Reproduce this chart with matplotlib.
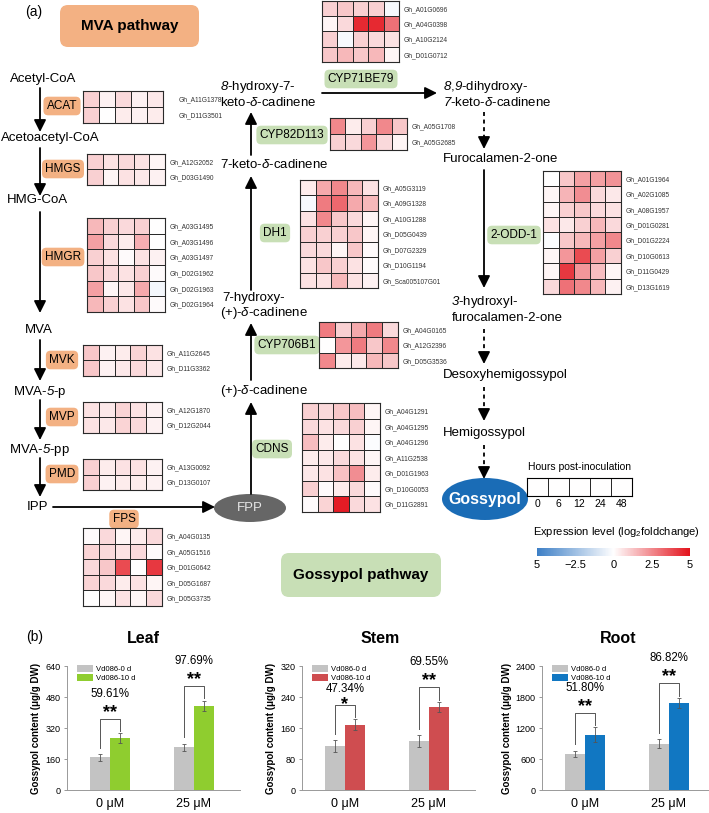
import numpy as np
import matplotlib as mpl
import matplotlib.pyplot as plt
from matplotlib.colors import LinearSegmentedColormap, Normalize
from matplotlib.patches import Ellipse, FancyBboxPatch

plt.rcParams['font.family'] = ['Liberation Sans', 'DejaVu Sans']
plt.rcParams['mathtext.fontset'] = 'custom'
plt.rcParams['mathtext.rm'] = 'Liberation Sans'
plt.rcParams['mathtext.it'] = 'Liberation Sans:italic'
plt.rcParams['mathtext.sf'] = 'Liberation Sans:italic'
plt.rcParams['mathtext.bf'] = 'Liberation Sans:bold'

W, H = 709, 813

# ---- heatmap data: log2 fold change at 0, 6, 12, 24, 48 hpi ----
hours = ['0', '6', '12', '24', '48']

acat_genes = ['A11G1378', 'D11G3501']
acat_vals = [[1.0, 0.3, 0.8, 0.3, 0.5],
             [1.0, 0.0, 0.4, 0.3, 0.4]]
hmgs_genes = ['A12G2052', 'D03G1490']
hmgs_vals = [[1.0, 0.6, 0.8, 0.6, 0.2],
             [1.0, 0.2, 0.6, 0.5, 0.3]]
hmgr_genes = ['A03G1495', 'A03G1496', 'A03G1497', 'D02G1962', 'D02G1963', 'D02G1964']
hmgr_vals = [[1.5, 1.0, 0.8, 1.0, 0.0],
             [2.0, 0.8, 0.4, 1.7, 0.0],
             [1.0, 0.6, 0.1, 0.6, 0.3],
             [1.2, 0.8, 0.6, 1.0, 0.1],
             [2.0, 0.2, 0.5, 1.8, -0.3],
             [1.5, 1.0, 0.6, 1.2, 0.1]]
mvk_genes = ['A11G2645', 'D11G3362']
mvk_vals = [[1.2, 0.3, 0.4, 0.9, 0.6],
            [1.2, 0.3, 0.5, 0.8, 0.5]]
mvp_genes = ['A12G1870', 'D12G2044']
mvp_vals = [[0.6, 0.5, 0.9, 0.6, 0.3],
            [0.6, 0.5, 0.9, 0.8, 0.3]]
pmd_genes = ['A13G0092', 'D13G0107']
pmd_vals = [[1.0, 0.4, 0.6, 0.6, 0.3],
            [1.0, 0.3, 0.4, 0.4, 0.3]]
fps_genes = ['A04G0135', 'A05G1516', 'D01G0642', 'D05G1687', 'D05G3735']
fps_vals = [[0.1, 0.8, 0.2, 0.4, 0.8],
            [0.9, 0.8, 0.6, 0.8, 0.1],
            [0.8, 1.2, 3.8, 0.0, 4.2],
            [0.9, 0.8, 0.4, 0.6, 0.2],
            [0.0, 0.2, 0.6, 0.2, 0.8]]
cyp71_genes = ['A01G0696', 'A04G0398', 'A10G2124', 'D01G0712']
cyp71_vals = [[1.0, 1.2, 1.0, 1.0, -0.2],
              [0.2, 0.8, 4.5, 4.5, 3.0],
              [1.0, -0.2, 1.0, 0.8, 0.6],
              [1.2, 1.5, 1.2, 1.5, 0.2]]
cyp82_genes = ['A05G1708', 'A05G2685']
cyp82_vals = [[2.5, 0.4, 1.0, 2.5, 1.2],
              [1.0, 0.8, 2.2, 0.8, 0.2]]
dh1_genes = ['A05G3119', 'A09G1328', 'A10G1288', 'D05G0439', 'D07G2329', 'D10G1194', 'Sca005107G01']
dh1_vals = [[0.4, 1.8, 2.5, 1.5, 0.6],
            [-0.2, 2.8, 3.2, 1.8, 1.5],
            [0.6, 2.5, 1.2, 0.8, 0.2],
            [1.0, 1.0, 1.0, 1.2, 0.2],
            [0.8, 0.8, 0.2, 1.2, 0.1],
            [0.6, 1.2, 1.0, 0.6, 0.1],
            [0.6, 0.6, 1.5, 0.6, 0.3]]
cyp706_genes = ['A04G0165', 'A12G2396', 'D05G3536']
cyp706_vals = [[2.8, 1.0, 1.8, 2.8, 0.8],
               [0.0, 2.2, 2.8, 1.2, 2.5],
               [2.5, 0.4, 0.5, 1.5, 1.2]]
cdns_genes = ['A04G1291', 'A04G1295', 'A04G1296', 'A11G2538', 'D01G1963', 'D10G0053', 'D11G2891']
cdns_vals = [[1.0, 0.8, 1.2, 1.4, 0.2],
             [0.8, 0.6, 0.8, 1.0, 0.2],
             [1.4, 0.4, 0.0, 0.6, -0.1],
             [0.4, 0.5, 0.8, 0.6, 0.2],
             [0.5, 0.6, 1.3, 2.4, 0.4],
             [1.0, 0.1, 0.4, 0.8, 0.1],
             [0.1, 0.9, 4.8, 0.8, 0.6]]
odd_genes = ['A01G1964', 'A02G1085', 'A08G1957', 'D01G0281', 'D01G2224', 'D10G0613', 'D11G0429', 'D13G1619']
odd_vals = [[0.0, 1.2, 2.0, 2.0, 2.3],
            [0.2, 1.6, 2.4, 0.8, 0.5],
            [0.2, 1.0, 1.2, 0.8, 0.6],
            [0.6, 0.5, 1.0, 1.5, 0.8],
            [-0.1, 1.2, 1.5, 2.0, 2.5],
            [0.2, 2.2, 3.8, 2.0, 1.0],
            [0.2, 4.2, 2.2, 1.4, 0.2],
            [0.8, 3.0, 2.5, 1.5, 0.3]]

cbar_ticks = [-5, -2.5, 0, 2.5, 5]
cbar_labels = ['5', '\u22122.5', '0', '2.5', '5']

# ---- gossypol content (ug/g DW) ----
treatments = ['0 \u03bcM', '25 \u03bcM']
leaf_0d, leaf_0d_err = [168, 220], [18, 20]
leaf_10d, leaf_10d_err = [267, 435], [25, 25]
leaf_pct, leaf_sig = ['59.61%', '97.69%'], ['**', '**']
stem_0d, stem_0d_err = [114, 126], [15, 15]
stem_10d, stem_10d_err = [168, 214], [14, 13]
stem_pct, stem_sig = ['47.34%', '69.55%'], ['*', '**']
root_0d, root_0d_err = [703, 897], [60, 90]
root_10d, root_10d_err = [1071, 1678], [140, 100]
root_pct, root_sig = ['51.80%', '86.82%'], ['**', '**']

cmap = LinearSegmentedColormap.from_list('expr', ['#3d7fc6', '#ffffff', '#e3131c'])
ORANGE = '#f3b183'
GREEN = '#c8dfb6'

fig = plt.figure(figsize=(W / 100, H / 100), dpi=100)


def px(x0, y0, x1, y1):
    return [x0 / W, 1 - y1 / H, (x1 - x0) / W, (y1 - y0) / H]


ax = fig.add_axes([0, 0, 1, 1])
ax.set_xlim(0, W)
ax.set_ylim(H, 0)
ax.axis('off')


def arrow(x0, y0, x1, y1):
    ax.annotate('', xy=(x1, y1), xytext=(x0, y0),
                arrowprops=dict(arrowstyle='-|>,head_length=0.6,head_width=0.3', color='k',
                                lw=1.3, mutation_scale=12, shrinkA=0, shrinkB=0))


def dashed(x, y0, y1):
    ax.plot([x, x], [y0, y1 - 8], color='k', lw=1.3, ls=(0, (2.2, 2.0)))
    arrow(x, y1 - 9, x, y1)


def tag(x, y, s, fc):
    ax.text(x, y, s, ha='center', va='center', fontsize=8.5,
            bbox=dict(boxstyle='round,pad=0.28,rounding_size=0.4', fc=fc, ec='none'))


def heatmap(rect, genes, vals, pad=3):
    hx = fig.add_axes(px(*rect))
    hx.pcolormesh(np.array(vals), cmap=cmap, vmin=-5, vmax=5, edgecolors='#2a2a2a', linewidth=0.7)
    hx.set_xlim(0, 5)
    hx.set_ylim(len(genes), 0)
    hx.set_xticks([])
    hx.yaxis.tick_right()
    hx.set_yticks(np.arange(len(genes)) + 0.5, ['Gh_' + g for g in genes], fontsize=4.8, color='#333333')
    hx.tick_params(axis='y', length=0, pad=pad)
    for s in hx.spines.values():
        s.set_linewidth(0.8)
        s.set_color('#2a2a2a')


# panel labels and pathway boxes
ax.text(34, 12, '(a)', ha='center', va='center', fontsize=10)
ax.text(35, 637, '(b)', ha='center', va='center', fontsize=10)
ax.add_patch(FancyBboxPatch((60, 5), 139, 42, boxstyle='round,pad=0,rounding_size=8', fc=ORANGE, ec='none'))
ax.text(129.5, 26, 'MVA pathway', ha='center', va='center', fontsize=11, fontweight='bold')
ax.add_patch(FancyBboxPatch((281, 553), 160, 44, boxstyle='round,pad=0,rounding_size=8', fc=GREEN, ec='none'))
ax.text(361, 575, 'Gossypol pathway', ha='center', va='center', fontsize=11, fontweight='bold')

# MVA branch
fs = 9.5
ax.text(43, 79, 'Acetyl-CoA', ha='center', va='center', fontsize=fs)
arrow(40, 88, 40, 132)
tag(62, 106, 'ACAT', ORANGE)
ax.text(50, 138, 'Acetoacetyl-CoA', ha='center', va='center', fontsize=fs)
arrow(40, 148, 40, 196)
tag(63, 169, 'HMGS', ORANGE)
ax.text(37, 200, 'HMG-CoA', ha='center', va='center', fontsize=fs)
arrow(40, 212, 40, 313)
tag(63, 257, 'HMGR', ORANGE)
ax.text(39, 330, 'MVA', ha='center', va='center', fontsize=fs)
arrow(40, 340, 40, 381)
tag(62, 360, 'MVK', ORANGE)
ax.text(40, 392, 'MVA-$\\mathsf{5}$-p', ha='center', va='center', fontsize=fs)
arrow(40, 400, 40, 440)
tag(62, 417, 'MVP', ORANGE)
ax.text(40, 450, 'MVA-$\\mathsf{5}$-pp', ha='center', va='center', fontsize=fs)
arrow(40, 458, 40, 497)
tag(62, 474, 'PMD', ORANGE)
ax.text(38, 507, 'IPP', ha='center', va='center', fontsize=fs)
arrow(53, 507, 215, 507)
tag(124, 519, 'FPS', ORANGE)
ax.add_patch(Ellipse((250, 508), 72, 28, fc='#666666', ec='none'))
ax.text(250, 508, 'FPP', ha='center', va='center', fontsize=9.5, color='#e6e6e6')

# sesquiterpene branch
arrow(251, 494, 251, 402)
ax.text(220, 391, '(+)-$\\delta$-cadinene', ha='left', va='center', fontsize=fs)
tag(272, 449, 'CDNS', GREEN)
arrow(251, 380, 251, 323)
ax.text(222, 298, '7-hydroxy-', ha='left', va='center', fontsize=fs)
ax.text(220, 313, '(+)-$\\delta$-cadinene', ha='left', va='center', fontsize=fs)
tag(287, 345, 'CYP706B1', GREEN)
arrow(251, 290, 251, 176)
ax.text(220, 165, '7-keto-$\\delta$-cadinene', ha='left', va='center', fontsize=fs)
tag(275, 233, 'DH1', GREEN)
arrow(251, 155, 251, 112)
ax.text(220, 87, '$\\mathsf{8}$-hydroxy-7-', ha='left', va='center', fontsize=fs)
ax.text(220, 103, 'keto-$\\delta$-cadinene', ha='left', va='center', fontsize=fs)
tag(292, 135, 'CYP82D113', GREEN)
tag(361, 79, 'CYP71BE79', GREEN)
arrow(322, 93, 437, 93)
ax.text(443, 87, '$\\mathsf{8}$,$\\mathsf{9}$-dihydroxy-', ha='left', va='center', fontsize=fs)
ax.text(443, 103, '$\\mathsf{7}$-keto-$\\delta$-cadinene', ha='left', va='center', fontsize=fs)
dashed(484, 112, 149)
ax.text(443, 159, 'Furocalamen-2-one', ha='left', va='center', fontsize=fs)
arrow(484, 170, 484, 288)
tag(514, 235, '2-ODD-1', GREEN)
ax.text(451, 302, '$\\mathsf{3}$-hydroxyl-', ha='left', va='center', fontsize=fs)
ax.text(452, 318, 'furocalamen-2-one', ha='left', va='center', fontsize=fs)
dashed(484, 329, 364)
ax.text(443, 375, 'Desoxyhemigossypol', ha='left', va='center', fontsize=fs)
dashed(484, 387, 421)
ax.text(443, 433, 'Hemigossypol', ha='left', va='center', fontsize=fs)
dashed(484, 445, 479)
ax.add_patch(Ellipse((485, 499), 86, 42, fc='#1a6cb6', ec='none'))
ax.text(485, 499, 'Gossypol', ha='center', va='center', fontsize=11.5, fontweight='bold', color='white')

# heatmaps
heatmap((83, 91, 163, 123), acat_genes, acat_vals, pad=11)
heatmap((87, 154, 165, 185), hmgs_genes, hmgs_vals)
heatmap((87, 218, 165, 312), hmgr_genes, hmgr_vals)
heatmap((83, 345, 162, 376), mvk_genes, mvk_vals)
heatmap((83, 402, 162, 433), mvp_genes, mvp_vals)
heatmap((83, 459, 162, 490), pmd_genes, pmd_vals)
heatmap((83, 528, 162, 606), fps_genes, fps_vals)
heatmap((322, 1, 399, 62), cyp71_genes, cyp71_vals)
heatmap((330, 118, 407, 150), cyp82_genes, cyp82_vals)
heatmap((300, 180, 378, 288), dh1_genes, dh1_vals)
heatmap((319, 322, 398, 368), cyp706_genes, cyp706_vals)
heatmap((302, 403, 380, 512), cdns_genes, cdns_vals)
heatmap((543, 171, 621, 294), odd_genes, odd_vals)

# hours key
ax.text(580, 467, 'Hours post-inoculation', ha='center', va='center', fontsize=7.5)
kx = fig.add_axes(px(527, 478, 632, 496))
kx.pcolormesh(np.zeros((1, len(hours))), cmap=cmap, vmin=-5, vmax=5, edgecolors='#2a2a2a', linewidth=0.7)
kx.set_xlim(0, len(hours))
kx.set_xticks(np.arange(len(hours)) + 0.5, hours, fontsize=7.5)
kx.set_yticks([])
kx.tick_params(axis='x', length=0, pad=2)

# colour scale
ax.text(616, 532, 'Expression level (log$_2$foldchange)', ha='center', va='center', fontsize=8)
cax = fig.add_axes(px(537, 548, 690, 556))
cb = mpl.colorbar.ColorbarBase(cax, cmap=cmap, norm=Normalize(-5, 5), orientation='horizontal', ticks=cbar_ticks)
cb.set_ticklabels(cbar_labels)
cb.outline.set_visible(False)
cax.tick_params(length=0, labelsize=8, pad=3)


def bars(rect, title, tx, ymax, v0, e0, v1, e1, c1, pct, sig, star_dy=(0.05, 0.05), pct_dy=(0.2, 0.2)):
    bx = fig.add_axes(px(*rect))
    x = np.arange(len(treatments))
    w = 0.238
    ek = dict(ecolor='#555555', elinewidth=0.6, capsize=1.5, capthick=0.6)
    bx.bar(x - w / 2, v0, w, yerr=e0, color='#c3c3c3', error_kw=ek, label='Vd086-0 d')
    bx.bar(x + w / 2, v1, w, yerr=e1, color=c1, error_kw=ek, label='Vd086-10 d')
    bx.set_xlim(-0.512, 1.548)
    bx.set_ylim(0, ymax)
    bx.set_yticks(np.linspace(0, ymax, 5))
    bx.set_yticklabels([f'{t:g}' for t in np.linspace(0, ymax, 5)], fontsize=6.5)
    bx.set_xticks(x, treatments, fontsize=9)
    bx.tick_params(axis='x', length=0, pad=6)
    bx.tick_params(axis='y', length=2.5, width=0.6, color='#888888', pad=2)
    for s in ['top', 'right']:
        bx.spines[s].set_visible(False)
    for s in ['left', 'bottom']:
        bx.spines[s].set_color('#999999')
        bx.spines[s].set_linewidth(0.7)
    bx.set_ylabel('Gossypol content (\u03bcg/g DW)', fontsize=7, fontweight='bold', labelpad=3)
    for i in range(len(x)):
        a = v0[i] + e0[i]
        b = v1[i] + e1[i]
        top = max(a, b) + 0.12 * ymax
        bx.plot([x[i] - w / 2, x[i] - w / 2, x[i] + w / 2, x[i] + w / 2],
                [a + 0.05 * ymax, top, top, b + 0.02 * ymax], color='#555555', lw=0.7)
        bx.text(x[i], top + star_dy[i] * ymax, sig[i], ha='center', va='center', fontsize=13, fontweight='bold')
        bx.text(x[i], top + pct_dy[i] * ymax, pct[i], ha='center', va='center', fontsize=8.3)
    bx.legend(loc='upper left', bbox_to_anchor=(0.04, 1.03), frameon=False, fontsize=5.5,
              handlelength=2.1, handleheight=0.9, labelspacing=0.15, borderaxespad=0, handletextpad=0.4)
    ax.text(tx, 638, title, ha='center', va='center', fontsize=11.5, fontweight='bold')


bars((67, 666, 240, 790), 'Leaf', 143, 640, leaf_0d, leaf_0d_err, leaf_10d, leaf_10d_err, '#8fcd2f', leaf_pct, leaf_sig)
bars((302, 666, 475, 790), 'Stem', 380, 320, stem_0d, stem_0d_err, stem_10d, stem_10d_err, '#cf4d50', stem_pct, stem_sig,
     star_dy=(0.0, 0.05), pct_dy=(0.125, 0.2))
bars((542, 666, 715, 790), 'Root', 618, 2400, root_0d, root_0d_err, root_10d, root_10d_err, '#1177c2', root_pct, root_sig)

fig.savefig('out.png', dpi=100)
